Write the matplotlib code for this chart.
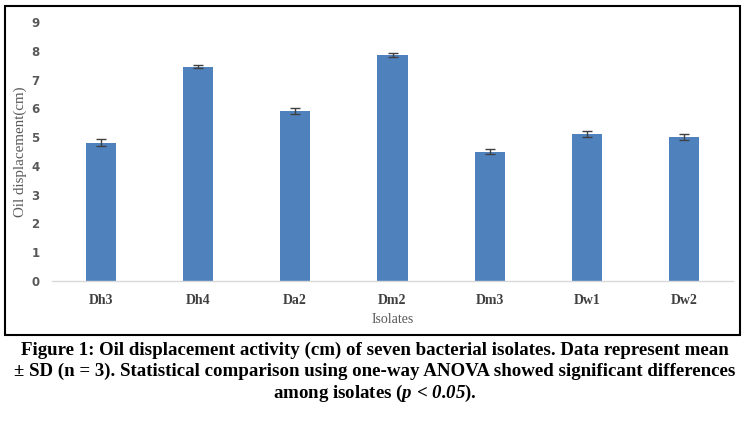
import numpy as np
import matplotlib.pyplot as plt
from matplotlib.patches import Rectangle

plt.rcParams['mathtext.fontset'] = 'custom'
plt.rcParams['mathtext.bfit'] = 'Liberation Serif:italic:bold'
plt.rcParams['mathtext.rm'] = 'Liberation Serif:bold'

isolates = ['Dh3', 'Dh4', 'Da2', 'Dm2', 'Dm3', 'Dw1', 'Dw2']
means = [4.8, 7.45, 5.9, 7.85, 4.5, 5.1, 5.0]
sds = [0.12, 0.06, 0.1, 0.06, 0.1, 0.1, 0.1]
yticks = [0, 1, 2, 3, 4, 5, 6, 7, 8, 9]

caption = ('Figure 1: Oil displacement activity (cm) of seven bacterial isolates. Data represent mean\n'
           '\u00b1 SD (n = 3). Statistical comparison using one-way ANOVA showed significant differences\n'
           'among isolates ($\\mathbfit{p}$ < $\\mathbfit{0.05}$).')

fig = plt.figure(figsize=(7.5, 4.21), dpi=100)
ax = fig.add_axes([52/750, 1-281/421, (733-52)/750, (281-22)/421])

x = np.arange(len(isolates))
ax.bar(x, means, width=0.31, color='#4f81bd', zorder=2)
ax.errorbar(x, means, yerr=sds, fmt='none', ecolor='#404040', elinewidth=1, capsize=3.5, capthick=1, zorder=3)

ax.set_xlim(-0.5, len(isolates) - 0.5)
ax.set_ylim(0, 9)
ax.set_yticks(yticks)
ax.set_yticklabels([str(t) for t in yticks], fontsize=8.5, fontweight='bold', color='#595959', family='DejaVu Sans')
ax.set_xticks(x)
ax.set_xticklabels(isolates, fontsize=10, fontweight='bold', color='#404040', family='Liberation Serif')
ax.tick_params(axis='both', length=0)
ax.tick_params(axis='y', pad=9)
ax.tick_params(axis='x', pad=9)
for s in ['top', 'right', 'left']:
    ax.spines[s].set_visible(False)
ax.spines['bottom'].set_color('#d9d9d9')
ax.spines['bottom'].set_linewidth(1)
ax.set_ylabel('Oil displacement(cm)', fontsize=10.8, color='#595959', family='Liberation Serif')
ax.yaxis.set_label_coords(-0.036, 0.5)
ax.set_xlabel('Isolates', fontsize=10, color='#595959', family='Liberation Serif', labelpad=5)

# outer frame around the chart
fig.patches.append(Rectangle((5/750, 1-335/421), 735/750, 329/421, transform=fig.transFigure,
                             fill=False, edgecolor='black', linewidth=1.5))

fig.text(0.5, 1-373/421, caption, ha='center', va='center', fontsize=13.6, fontweight='bold',
         family='Liberation Serif', linespacing=1.22)

fig.savefig('out.png', dpi=100)
